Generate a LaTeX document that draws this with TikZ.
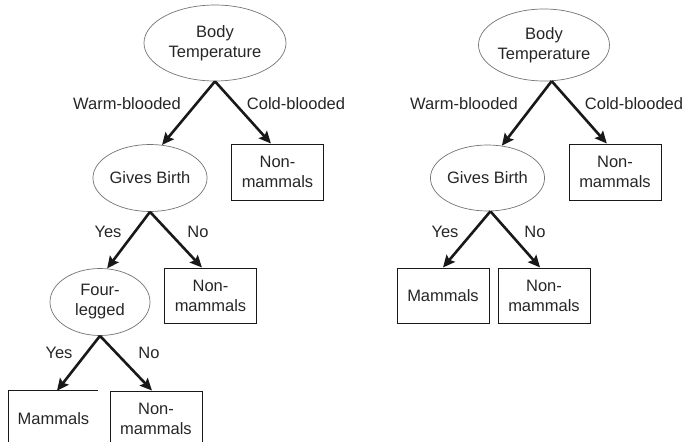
\documentclass[tikz,border=0pt]{standalone}
\usepackage{fontspec}
\setmainfont{Liberation Sans}
\usetikzlibrary{shapes.geometric,arrows.meta,calc}
\begin{document}
\begin{tikzpicture}[x=1pt,y=1pt,
  every node/.style={font=\fontsize{16.5}{20}\selectfont, text=black!85, align=center, inner sep=0pt},
  attr/.style={ellipse, draw=black!55, line width=0.7pt},
  leaf/.style={rectangle, draw=black!90, line width=1pt, minimum width=92pt, minimum height=56pt},
  arr/.style={line width=2.6pt, black!90, -{Stealth[length=12pt,width=11pt,inset=2pt]}},
  lbl/.style={}
]
\clip (0,0) rectangle (686,-442);
% ---------- left tree ----------
\node[attr, minimum width=142pt, minimum height=76pt] (bt1) at (215,-43) {Body\\Temperature};
\node[attr, minimum width=109pt, minimum height=67pt] (gb1) at (150,-178) {Gives Birth};
\node[leaf] (nm1) at (277.5,-172) {Non-\\mammals};
\node[attr, minimum width=100pt, minimum height=67pt] (fl1) at (100,-302) {Four-\\legged};
\node[leaf, minimum height=55pt] (nm2) at (210.5,-295.5) {Non-\\mammals};
\node[minimum width=89pt, minimum height=56pt] (mm1) at (53.5,-419) {Mammals};
\draw[black!90, line width=1pt] (mm1.south west) -- (mm1.north west) -- (mm1.north east);
\node[leaf] (nm3) at (156,-419) {Non-\\mammals};

\draw[arr] (bt1.south) -- (gb1.70);
\draw[arr] (bt1.south) -- (nm1.103);
\draw[arr] (gb1.south) -- (fl1.78);
\draw[arr] (gb1.south) -- (nm2.107);
\draw[arr] (fl1.south) -- (mm1.83);
\draw[arr] (fl1.south) -- (nm3.98);

\node[lbl] (l1) at (127,-104) {Warm-blooded};
\node[lbl] (l2) at (296,-104) {Cold-blooded};
\node[lbl] (l3) at (108,-232) {Yes};
\node[lbl] (l4) at (198,-232) {No};
\node[lbl] (l5) at (59,-353) {Yes};
\node[lbl] (l6) at (149,-353) {No};

% ---------- right tree ----------
\node[attr, minimum width=121pt, minimum height=72pt] (bt2) at (544,-45) {Body\\Temperature};
\node[attr, minimum width=109pt, minimum height=66pt] (gb2) at (487.5,-178) {Gives Birth};
\node[leaf] (nm4) at (615,-172) {Non-\\mammals};
\node[leaf, minimum height=55pt] (mm2) at (443,-295.5) {Mammals};
\node[leaf, minimum height=55pt] (nm5) at (544,-295.5) {Non-\\mammals};

\draw[arr] (bt2.-78) -- (gb2.66);
\draw[arr] (bt2.-78) -- (nm4.106);
\draw[arr] (gb2.-85) -- (mm2.north);
\draw[arr] (gb2.-85) -- (nm5.98);

\node[lbl] (r1) at (464,-104) {Warm-blooded};
\node[lbl] (r2) at (634,-104) {Cold-blooded};
\node[lbl] (r3) at (445,-232) {Yes};
\node[lbl] (r4) at (535,-232) {No};
\end{tikzpicture}
\end{document}
